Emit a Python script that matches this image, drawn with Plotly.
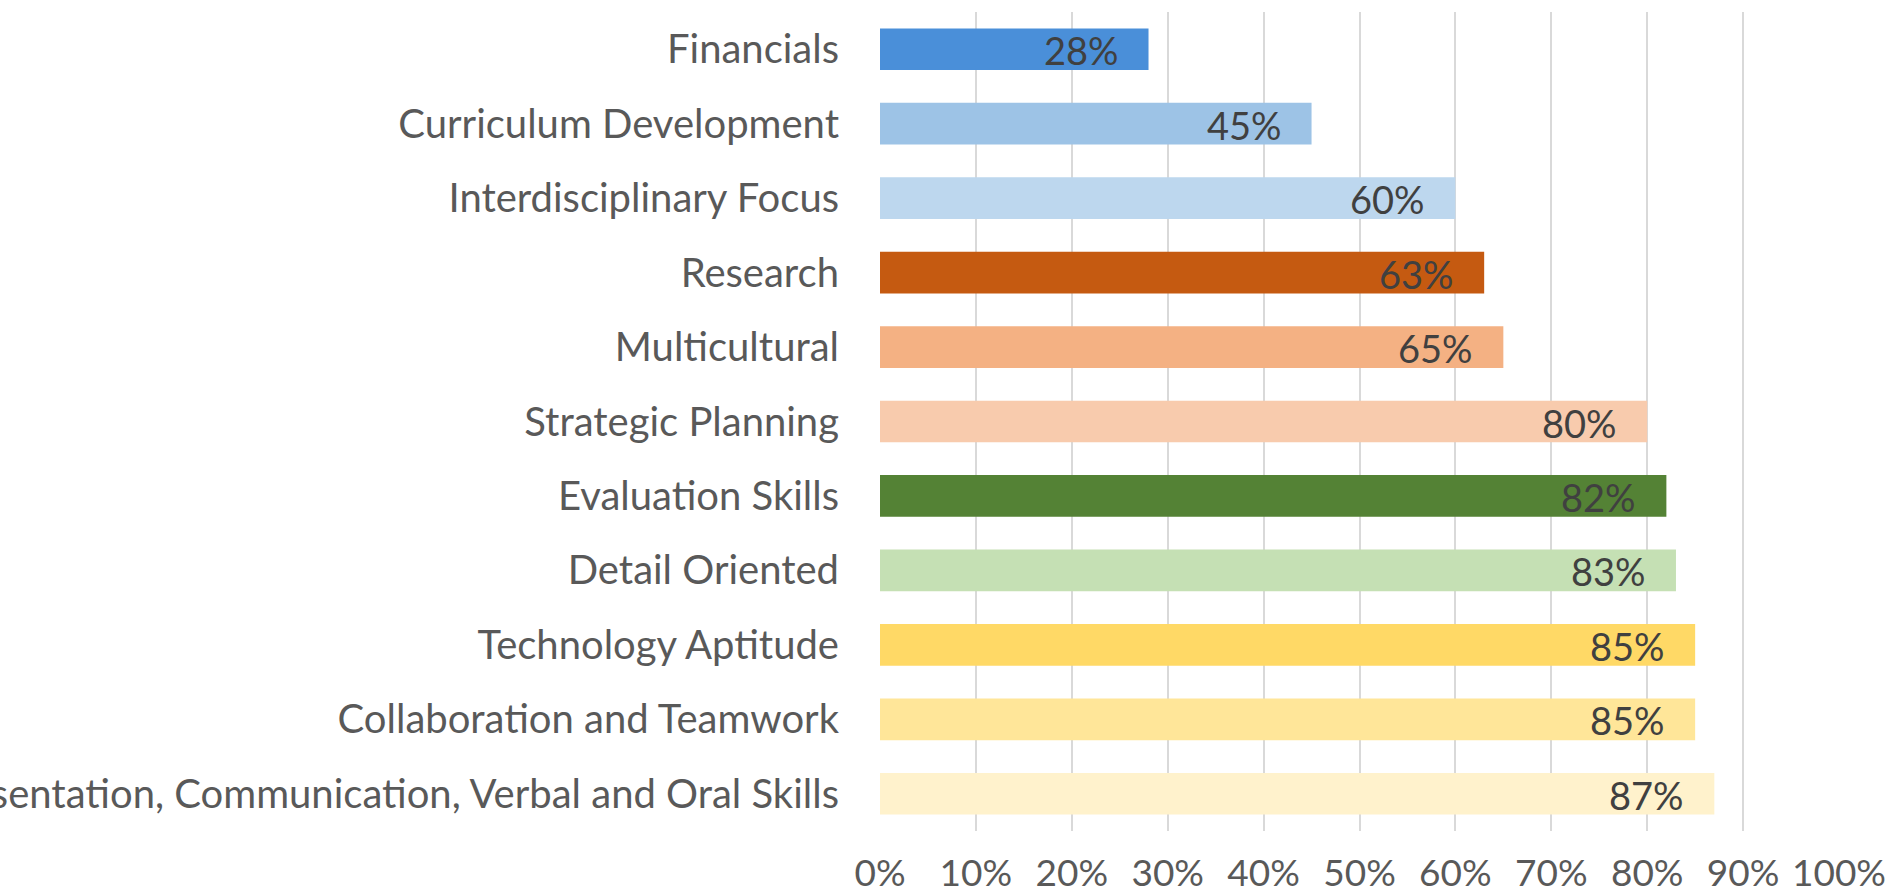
import plotly.graph_objects as go

categories = [
    "Financials",
    "Curriculum Development",
    "Interdisciplinary Focus",
    "Research",
    "Multicultural",
    "Strategic Planning",
    "Evaluation Skills",
    "Detail Oriented",
    "Technology Aptitude",
    "Collaboration and Teamwork",
    "Presentation, Communication, Verbal and Oral Skills",
]
values = [0.28, 0.45, 0.60, 0.63, 0.65, 0.80, 0.82, 0.83, 0.85, 0.85, 0.87]
colors = [
    "#4a8fd9", "#9dc3e6", "#bdd7ee",
    "#c55a11", "#f4b183", "#f8cbad",
    "#548235", "#c5e0b4",
    "#ffd966", "#ffe699", "#fff2cc",
]
tick_vals = [i / 10 for i in range(11)]
tick_text = [f"{i * 10}%" for i in range(11)]

FONT = "Lato"

fig = go.Figure()
fig.add_trace(go.Bar(
    x=values,
    y=categories,
    orientation="h",
    marker=dict(color=colors, line=dict(width=0)),
    hoverinfo="skip",
))

for c, v in zip(categories, values):
    fig.add_annotation(
        x=v, y=c, xref="x", yref="y",
        text=f"{round(v * 100)}%",
        showarrow=False,
        xanchor="right", yanchor="middle",
        xshift=-28, yshift=-1,
        font=dict(family=FONT, size=38, color="#404040"),
    )

fig.update_layout(
    width=1895, height=896,
    margin=dict(l=880, r=56, t=12, b=65, autoexpand=False),
    paper_bgcolor="white",
    plot_bgcolor="white",
    showlegend=False,
    bargap=0.44,
    font=dict(family=FONT, size=38, color="#595959"),
)
fig.update_xaxes(
    range=[0, 1],
    tickvals=tick_vals,
    ticktext=tick_text,
    showgrid=True,
    gridcolor="#d9d9d9",
    gridwidth=1.5,
    zeroline=False,
    showline=False,
    ticks="",
    ticklabelstandoff=17,
    tickfont=dict(family=FONT, size=37, color="#595959"),
    automargin=False,
    fixedrange=True,
)
fig.update_yaxes(
    autorange="reversed",
    showgrid=False,
    zeroline=False,
    showline=False,
    ticks="",
    ticklabelstandoff=40,
    tickfont=dict(family=FONT, size=40, color="#595959"),
    automargin=False,
    fixedrange=True,
)

fig.write_html(
    "out.html",
    config={"displayModeBar": False},
    post_script="document.body.style.margin='0';document.body.style.overflow='hidden';",
)
